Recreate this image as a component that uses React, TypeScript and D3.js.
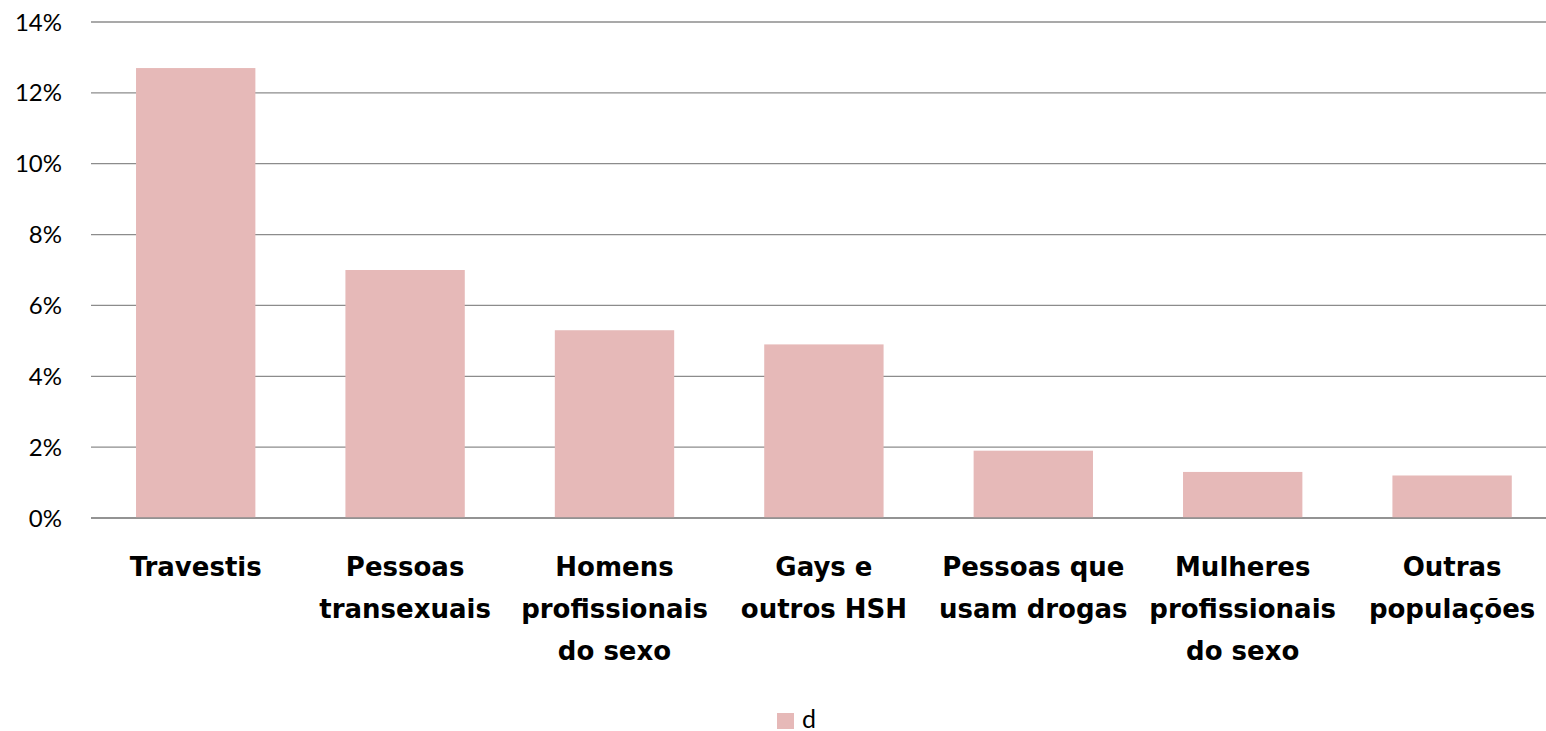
import { useEffect, useRef } from "react";
import * as d3 from "d3";

// data
const categories = [
  "Travestis",
  "Pessoas transexuais",
  "Homens profissionais do sexo",
  "Gays e outros HSH",
  "Pessoas que usam drogas",
  "Mulheres profissionais do sexo",
  "Outras populações",
];
const labelLines = [
  ["Travestis"],
  ["Pessoas", "transexuais"],
  ["Homens", "profissionais", "do sexo"],
  ["Gays e", "outros HSH"],
  ["Pessoas que", "usam drogas"],
  ["Mulheres", "profissionais", "do sexo"],
  ["Outras", "populações"],
];
const values = [12.7, 7.0, 5.3, 4.9, 1.9, 1.3, 1.2];
const yTicks = [0, 2, 4, 6, 8, 10, 12, 14];
const seriesName = "d";

const WIDTH = 1546;
const HEIGHT = 731;

export default function App() {
  const svgRef = useRef<SVGSVGElement>(null);

  useEffect(() => {
    const svg = d3.select(svgRef.current);
    svg.selectAll("*").remove();

    const margin = { top: 22, left: 91, bottom: 213 };
    const plotRight = 91 + 7 * 209.4;

    const x = d3
      .scaleBand<string>()
      .domain(categories)
      .range([margin.left, plotRight])
      .paddingInner(0.43)
      .paddingOuter(0.215);

    const y = d3
      .scaleLinear()
      .domain([0, 14])
      .range([HEIGHT - margin.bottom, margin.top]);

    svg
      .append("rect")
      .attr("width", WIDTH)
      .attr("height", HEIGHT)
      .attr("fill", "#ffffff");

    // gridlines
    svg
      .append("g")
      .selectAll("line")
      .data(yTicks)
      .join("line")
      .attr("x1", margin.left)
      .attr("x2", plotRight)
      .attr("y1", (d) => y(d))
      .attr("y2", (d) => y(d))
      .attr("stroke", "#8c8c8c")
      .attr("stroke-width", 1.3);

    // y tick labels
    svg
      .append("g")
      .selectAll("text")
      .data(yTicks)
      .join("text")
      .attr("x", 62)
      .attr("y", (d) => y(d))
      .attr("dy", "0.36em")
      .attr("text-anchor", "end")
      .attr("font-family", "Lato, sans-serif")
      .attr("font-size", 24)
      .attr("fill", "#000")
      .text((d) => `${d}%`);

    // bars
    svg
      .append("g")
      .selectAll("rect")
      .data(values)
      .join("rect")
      .attr("x", (_, i) => x(categories[i])!)
      .attr("width", x.bandwidth())
      .attr("y", (d) => y(d))
      .attr("height", (d) => y(0) - y(d))
      .attr("fill", "#e6b9b8");

    // baseline drawn over the bars
    svg
      .append("line")
      .attr("x1", margin.left)
      .attr("x2", plotRight)
      .attr("y1", y(0))
      .attr("y2", y(0))
      .attr("stroke", "#8c8c8c")
      .attr("stroke-width", 1.3);

    // category labels
    const labels = svg
      .append("g")
      .selectAll("text")
      .data(categories)
      .join("text")
      .attr("text-anchor", "middle")
      .attr("font-family", "'DejaVu Sans', sans-serif")
      .attr("font-weight", "bold")
      .attr("font-size", 26)
      .attr("fill", "#000");

    labels.each(function (c, i) {
      const cx = x(c)! + x.bandwidth() / 2;
      d3.select(this)
        .selectAll("tspan")
        .data(labelLines[i])
        .join("tspan")
        .attr("x", cx)
        .attr("y", (_, j) => 576 + j * 42)
        .text((d) => d);
    });

    // legend
    const legend = svg.append("g").attr("transform", "translate(777,713)");
    legend
      .append("rect")
      .attr("width", 17)
      .attr("height", 16)
      .attr("fill", "#e6b9b8");
    legend
      .append("text")
      .attr("x", 25)
      .attr("y", 15)
      .attr("font-family", "Lato, sans-serif")
      .attr("font-size", 25)
      .attr("fill", "#000")
      .text(seriesName);
  }, []);

  return (
    <svg
      ref={svgRef}
      width={WIDTH}
      height={HEIGHT}
      style={{ position: "absolute", left: 0, top: 0, display: "block" }}
    />
  );
}
